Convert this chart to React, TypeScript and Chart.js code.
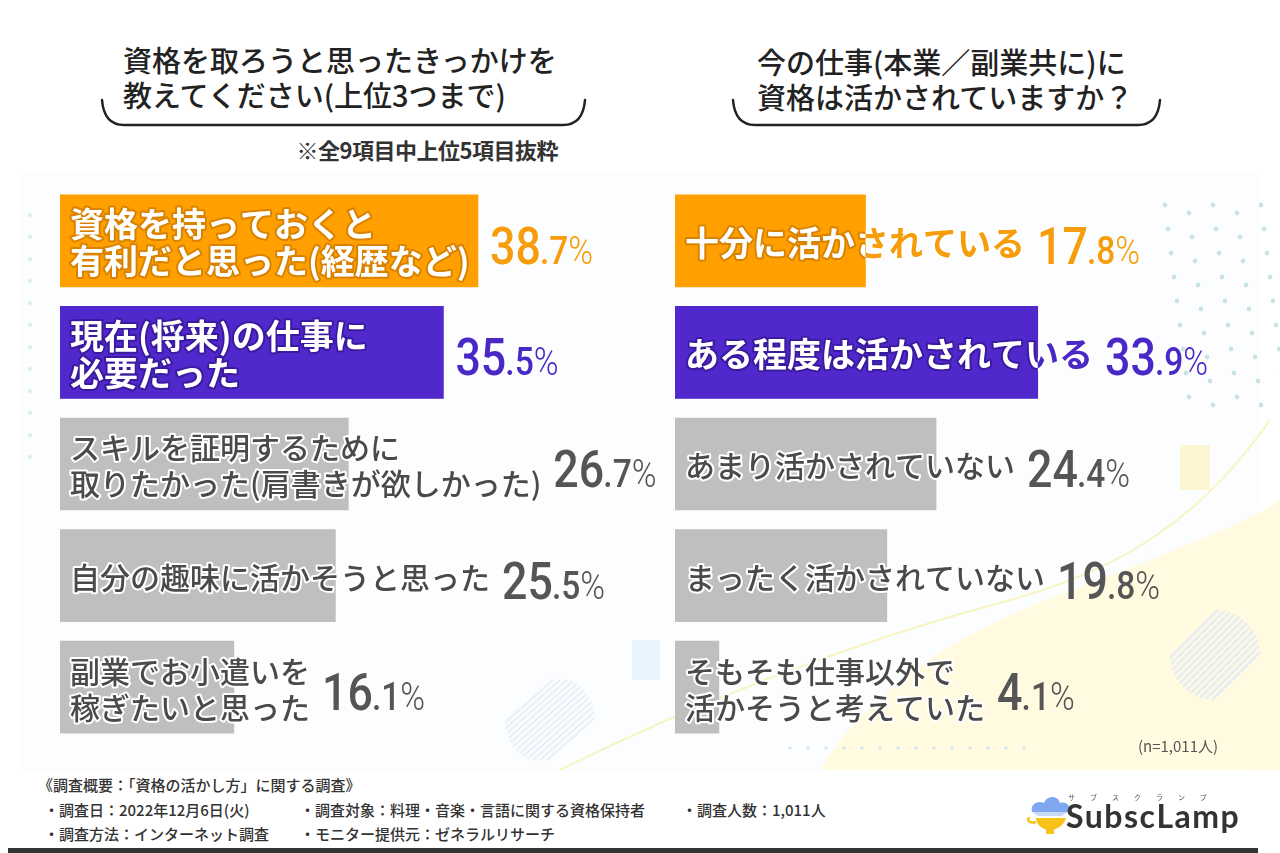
import React, { useEffect, useRef } from "react";
import { Chart, registerables } from "chart.js";

Chart.register(...registerables);

// ---------- data ----------
const leftCategories: string[][] = [
  ["資格を持っておくと", "有利だと思った(経歴など)"],
  ["現在(将来)の仕事に", "必要だった"],
  ["スキルを証明するために", "取りたかった(肩書きが欲しかった)"],
  ["自分の趣味に活かそうと思った"],
  ["副業でお小遣いを", "稼ぎたいと思った"],
];
const leftValues: number[] = [38.7, 35.5, 26.7, 25.5, 16.1];

const rightCategories: string[][] = [
  ["十分に活かされている"],
  ["ある程度は活かされている"],
  ["あまり活かされていない"],
  ["まったく活かされていない"],
  ["そもそも仕事以外で", "活かそうと考えていた"],
];
const rightValues: number[] = [17.8, 33.9, 24.4, 19.8, 4.1];

const leftTitle = ["資格を取ろうと思ったきっかけを", "教えてください(上位3つまで)"];
const rightTitle = ["今の仕事(本業／副業共に)に", "資格は活かされていますか？"];
const leftNote = "※全9項目中上位5項目抜粋";
const sampleNote = "(n=1,011人)";
const footerLines = [
  ["《調査概要：「資格の活かし方」に関する調査》"],
  ["・調査日：2022年12月6日(火)", "・調査対象：料理・音楽・言語に関する資格保持者", "・調査人数：1,011人"],
  ["・調査方法：インターネット調査", "・モニター提供元：ゼネラルリサーチ"],
];

// ---------- styles ----------
const ORANGE = "#FF9F00";
const PURPLE = "#5128CB";
const GRAY = "#BFBFBF";
const barColors = [ORANGE, PURPLE, GRAY, GRAY, GRAY];
const valueColors = ["#F79C0A", "#4A28C6", "#555555", "#555555", "#555555"];
const outlineColors = ["#D98200", "#3A1A9E", null, null, null];
const JP = "'Noto Sans CJK JP', 'Noto Sans', sans-serif";

function makeLabelPlugin(categories: string[][], values: number[], colorFont: number, grayFont: number) {
  return {
    id: "barLabels",
    afterDatasetsDraw(chart: any) {
      const ctx: CanvasRenderingContext2D = chart.ctx;
      const meta = chart.getDatasetMeta(0);
      meta.data.forEach((bar: any, i: number) => {
        const { x, y, base, height } = bar.getProps(["x", "y", "base", "height"], true);
        const lines = categories[i];
        const colored = i < 2;
        const fs = colored ? colorFont : grayFont;
        const lineH = colored ? 37 : 36;
        const tx = base + 10;
        ctx.save();
        ctx.font = `${colored ? 700 : 500} ${fs}px ${JP}`;
        ctx.textBaseline = "middle";
        ctx.textAlign = "left";
        ctx.lineJoin = "round";
        let maxW = 0;
        lines.forEach((ln) => {
          maxW = Math.max(maxW, ctx.measureText(ln).width);
        });
        const ly = (j: number) => y + (j - (lines.length - 1) / 2) * lineH + 2;
        if (colored) {
          lines.forEach((ln, j) => {
            ctx.strokeStyle = "#FFFFFF";
            ctx.lineWidth = 5;
            ctx.strokeText(ln, tx, ly(j));
            ctx.fillStyle = valueColors[i];
            ctx.fillText(ln, tx, ly(j));
          });
          ctx.save();
          ctx.beginPath();
          ctx.rect(base, y - height / 2, x - base, height);
          ctx.clip();
          ctx.fillStyle = barColors[i];
          ctx.fillRect(base, y - height / 2, x - base, height);
          lines.forEach((ln, j) => {
            ctx.strokeStyle = outlineColors[i] as string;
            ctx.lineWidth = 4;
            ctx.strokeText(ln, tx, ly(j));
            ctx.fillStyle = "#FFFFFF";
            ctx.fillText(ln, tx, ly(j));
          });
          ctx.restore();
        } else {
          lines.forEach((ln, j) => {
            ctx.strokeStyle = "#FFFFFF";
            ctx.lineWidth = 4;
            ctx.strokeText(ln, tx, ly(j));
            ctx.fillStyle = "#4A4A4A";
            ctx.fillText(ln, tx, ly(j));
          });
        }
        ctx.restore();

        // value label
        const vx = Math.max(x, tx + maxW) + 12;
        const [intPart, decPart] = values[i].toFixed(1).split(".");
        ctx.save();
        ctx.translate(vx, y + 23);
        ctx.scale(0.86, 1);
        ctx.textBaseline = "alphabetic";
        ctx.textAlign = "left";
        ctx.fillStyle = valueColors[i];
        ctx.font = `500 52px Roboto`;
        ctx.fillText(intPart, 0, 0);
        let w = ctx.measureText(intPart).width;
        ctx.font = `500 39px Roboto`;
        ctx.fillText("." + decPart, w - 1, 0);
        w += ctx.measureText("." + decPart).width - 1;
        ctx.font = `300 39px Roboto`;
        ctx.fillText("%", w, 0);
        ctx.restore();
      });
    },
  };
}

function BarChart(props: {
  categories: string[][];
  values: number[];
  left: number;
  width: number;
  padRight: number;
  colorFont: number;
  grayFont: number;
}) {
  const ref = useRef<HTMLCanvasElement | null>(null);
  useEffect(() => {
    if (!ref.current) return;
    const chart = new Chart(ref.current, {
      type: "bar",
      data: {
        labels: props.categories.map((c) => c.join("")),
        datasets: [
          {
            data: props.values,
            backgroundColor: barColors,
            borderWidth: 0,
            barThickness: 92,
          },
        ],
      },
      options: {
        indexAxis: "y",
        responsive: false,
        animation: false,
        maintainAspectRatio: false,
        layout: { padding: { left: 0, right: props.padRight, top: 0, bottom: 0 } },
        plugins: { legend: { display: false }, tooltip: { enabled: false } },
        scales: {
          x: { min: 0, max: 50, display: false },
          y: { display: false },
        },
      },
      plugins: [makeLabelPlugin(props.categories, props.values, props.colorFont, props.grayFont)],
    } as any);
    return () => chart.destroy();
  }, []);
  return (
    <canvas
      ref={ref}
      width={props.width}
      height={558}
      style={{ position: "absolute", left: props.left, top: 185, width: props.width, height: 558 }}
    />
  );
}

function Background() {
  const dots: JSX.Element[] = [];
  for (let r = 0; r < 9; r++) {
    for (let c = 0; c < 5; c++) {
      const cx = 1165 + c * 24 + r * 3;
      const cy = 205 + r * 24 + (c % 2) * 8;
      dots.push(<circle key={`d${r}-${c}`} cx={cx} cy={cy} r={2.4} fill="#C6E6E2" />);
    }
  }
  for (let r = 0; r < 12; r++) {
    dots.push(<circle key={`l${r}`} cx={30} cy={215 + r * 22} r={2} fill="#D9EEEC" />);
  }
  for (let c = 0; c < 14; c++) {
    dots.push(<circle key={`b${c}`} cx={790 + c * 18} cy={748} r={1.8} fill="#D3E8F0" />);
  }
  const stripes: JSX.Element[] = [];
  for (let k = -6; k <= 6; k++) {
    stripes.push(
      <line key={`s${k}`} x1={505 + k * 7} y1={760} x2={595 + k * 7} y2={680} stroke="#EAF1F8" strokeWidth={2.5} />
    );
    stripes.push(
      <line key={`t${k}`} x1={1170 + k * 7} y1={700} x2={1260 + k * 7} y2={610} stroke="#E6EEF5" strokeWidth={2.5} />
    );
  }
  return (
    <svg width={1280} height={853} style={{ position: "absolute", left: 0, top: 0 }}>
      <defs>
        <clipPath id="c1">
          <circle cx={550} cy={720} r={45} />
        </clipPath>
        <clipPath id="c2">
          <circle cx={1215} cy={655} r={45} />
        </clipPath>
      </defs>
      <rect x={0} y={0} width={1280} height={853} fill="#FFFFFF" />
      <rect x={20} y={172} width={1240} height={600} fill="#FCFDFE" />
      <path d="M 820 770 C 900 640, 1050 600, 1150 560 C 1210 535, 1250 520, 1280 500 L 1280 770 Z" fill="#FFFAE0" />
      <path d="M 560 770 C 700 700, 860 640, 1010 600 C 1120 570, 1200 520, 1270 420" fill="none" stroke="#F7F4C0" strokeWidth={2} />
      <rect x={632} y={640} width={28} height={40} fill="#E8F4FB" />
      <rect x={1180} y={445} width={30} height={45} fill="#FDF6D2" />
      <g clipPath="url(#c1)">{stripes.filter((_, i) => i % 2 === 0)}</g>
      <g clipPath="url(#c2)">{stripes.filter((_, i) => i % 2 === 1)}</g>
      {dots}
    </svg>
  );
}

function Brace(props: { x1: number; x2: number }) {
  const { x1, x2 } = props;
  const d = `M ${x1} 100 Q ${x1 + 2} 125 ${x1 + 22} 125 L ${x2 - 22} 125 Q ${x2 - 2} 125 ${x2} 100`;
  return (
    <svg width={1280} height={140} style={{ position: "absolute", left: 0, top: 0 }}>
      <path d={d} fill="none" stroke="#222" strokeWidth={2.5} strokeLinecap="round" />
    </svg>
  );
}

export default function App() {
  const titleStyle: React.CSSProperties = {
    position: "absolute",
    fontFamily: JP,
    fontSize: 29,
    lineHeight: "35px",
    color: "#222",
    whiteSpace: "nowrap",
    fontWeight: 500,
  };
  const footStyle: React.CSSProperties = {
    position: "absolute",
    fontFamily: JP,
    fontSize: 15,
    lineHeight: "18px",
    color: "#333",
    whiteSpace: "nowrap",
    fontWeight: 500,
  };
  const footerX = [[38], [44, 300, 682], [44, 300]];
  const footerY = [776, 801, 825];
  return (
    <div style={{ position: "absolute", left: 0, top: 0, width: 1280, height: 853, overflow: "hidden", background: "#fff" }}>
      <Background />
      <div style={{ ...titleStyle, left: 123, top: 42 }}>
        {leftTitle.map((t, i) => (
          <div key={i}>{t}</div>
        ))}
      </div>
      <div style={{ ...titleStyle, left: 757, top: 44 }}>
        {rightTitle.map((t, i) => (
          <div key={i}>{t}</div>
        ))}
      </div>
      <Brace x1={102} x2={585} />
      <Brace x1={733} x2={1160} />
      <div
        style={{
          position: "absolute",
          right: 1280 - 558,
          top: 133,
          fontFamily: JP,
          fontSize: 22,
          fontWeight: 700,
          color: "#333",
          whiteSpace: "nowrap",
          letterSpacing: "-0.5px",
        }}
      >
        {leftNote}
      </div>

      <BarChart categories={leftCategories} values={leftValues} left={60} width={600} padRight={60} colorFont={34} grayFont={30} />
      <BarChart categories={rightCategories} values={rightValues} left={675} width={605} padRight={70} colorFont={34} grayFont={30} />

      <div style={{ position: "absolute", left: 1138, top: 735, fontFamily: JP, fontSize: 15, color: "#555", whiteSpace: "nowrap" }}>
        {sampleNote}
      </div>

      {footerLines.map((row, r) =>
        row.map((t, c) => (
          <div key={`${r}-${c}`} style={{ ...footStyle, left: footerX[r][c], top: footerY[r] }}>
            {t}
          </div>
        ))
      )}

      <svg width={60} height={50} style={{ position: "absolute", left: 1022, top: 792 }}>
        <path d="M 10 20 C 8 12, 16 8, 22 11 C 25 3, 36 3, 38 11 C 44 9, 50 14, 46 20 Z" fill="#7FA8F0" />
        <path d="M 10 20 L 46 20 L 40 24 L 16 24 Z" fill="#C9D9F8" />
        <path d="M 14 26 C 14 34, 22 38, 28 38 C 34 38, 42 34, 44 26 Z" fill="#F7C21A" />
        <rect x={24} y={37} width={8} height={5} fill="#F7C21A" />
        <path d="M 8 26 C 4 26, 6 32, 14 30" fill="none" stroke="#F7C21A" strokeWidth={2.5} />
      </svg>
      <div
        style={{
          position: "absolute",
          left: 1068,
          top: 792,
          fontFamily: "'Noto Sans CJK JP', sans-serif",
          fontSize: 7,
          letterSpacing: "15px",
          color: "#555",
          whiteSpace: "nowrap",
        }}
      >
        サブスクランプ
      </div>
      <div
        style={{
          position: "absolute",
          left: 1066,
          top: 796,
          fontFamily: "Lato, 'Open Sans', sans-serif",
          fontSize: 32,
          fontWeight: 700,
          letterSpacing: "1.5px",
          color: "#333",
          whiteSpace: "nowrap",
          lineHeight: "40px",
        }}
      >
        SubscLamp
      </div>
      <div style={{ position: "absolute", left: 8, top: 848, width: 1250, height: 5, background: "#333" }} />
    </div>
  );
}
